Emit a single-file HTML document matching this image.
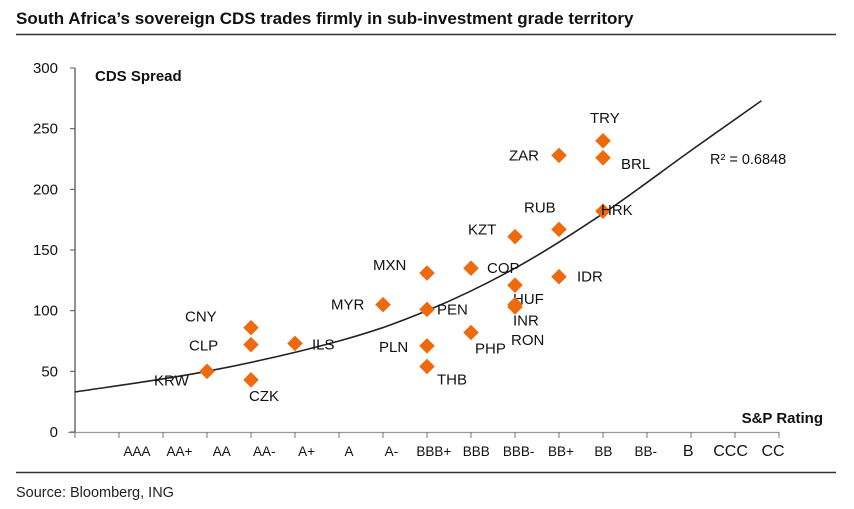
<!DOCTYPE html>
<html><head><meta charset="utf-8"><style>
body{margin:0;background:#fff;width:854px;height:509px;overflow:hidden;font-family:"Liberation Sans",sans-serif;}
svg{display:block}
</style></head><body>
<svg id="chart" width="854" height="509">
<text x="16" y="24" font-size="17" font-weight="bold" fill="#111">South Africa’s sovereign CDS trades firmly in sub-investment grade territory</text>
<line x1="16" y1="34.5" x2="836" y2="34.5" stroke="#333" stroke-width="1.5"/>
<line x1="16" y1="472.5" x2="836" y2="472.5" stroke="#333" stroke-width="1.5"/>
<text x="16" y="497" font-size="14.5" fill="#222">Source: Bloomberg, ING</text>
<text x="95" y="81" font-size="15" font-weight="bold" fill="#111">CDS Spread</text>
<text x="823" y="423" font-size="15" font-weight="bold" fill="#111" text-anchor="end">S&amp;P Rating</text>
<text x="710" y="164" font-size="14.5" fill="#111">R² = 0.6848</text>
<g id="axes"></g><g id="trend"></g><g id="points"></g>
</svg>
<script>
const categories=["AAA","AA+","AA","AA-","A+","A","A-","BBB+","BBB","BBB-","BB+","BB","BB-","B","CCC","CC"];
const yTicks=[0,50,100,150,200,250,300];
const countries=["KRW","CNY","CLP","CZK","ILS","MYR","MXN","PEN","PLN","THB","COP","PHP","KZT","HUF","INR","RON","ZAR","RUB","IDR","TRY","BRL","HRK"];
const ratings=["AA","AA-","AA-","AA-","A+","A-","BBB+","BBB+","BBB+","BBB+","BBB","BBB","BBB-","BBB-","BBB-","BBB-","BB+","BB+","BB+","BB","BB","BB"];
const spreads=[50,86,72,43,73,105,131,101,71,54,135,82,161,121,105,103,228,167,128,240,226,182];
const trendIdx=[-1,2,5,7,9,11,13,14.6];
const trendVal=[33,50,75,100,135,180,232,273];
const labelOff={KRW:[-53,14],CNY:[-66,-6],CLP:[-62,6],CZK:[-2,21],ILS:[17,6],MYR:[-52,5],MXN:[-54,-3],PEN:[10,5],PLN:[-48,6],THB:[10,18],COP:[16,5],PHP:[4,21],KZT:[-47,-2],HUF:[-2,19],INR:[-2,21],RON:[-4,38],ZAR:[-50,5],RUB:[-35,-17],IDR:[18,5],TRY:[-13,-18],BRL:[18,11],HRK:[-2,4]};
const NS="http://www.w3.org/2000/svg";
const x=i=>75+44*(i+1);
const y=v=>432-v*(364/300);
function mk(tag,attrs,parent,txt){const e=document.createElementNS(NS,tag);for(const k in attrs)e.setAttribute(k,attrs[k]);if(txt!==undefined)e.textContent=txt;parent.appendChild(e);return e;}
const ax=document.getElementById('axes');
let e=mk('line',{x1:75,y1:y(300),x2:75,y2:433,stroke:'#555','stroke-width':1.3},ax);


e=mk('line',{x1:68,y1:432.5,x2:779,y2:432.5,stroke:'#999','stroke-width':1.3},ax);


yTicks.forEach(v=>{
 mk('line',{x1:70,y1:y(v),x2:75,y2:y(v),stroke:'#555'},ax);
 e=mk('text',{x:58,y:y(v)+5,'font-size':15,'text-anchor':'end',fill:'#111'},ax,String(v));
 
 
});
mk('line',{x1:75,y1:432,x2:75,y2:438,stroke:'#777'},ax);
categories.forEach((c,i)=>{
 mk('line',{x1:75+44*(i+1),y1:432,x2:75+44*(i+1),y2:438,stroke:'#777'},ax);
 e=mk('text',{x:137+42.4*i,y:456,'font-size':(i>=13)?16:13.5,'text-anchor':'middle',fill:'#111'},ax,c);
 
 
});
const pts=trendIdx.map((t,i)=>[x(t),y(trendVal[i])]);
let d='M'+pts[0][0]+','+pts[0][1];
for(let i=0;i<pts.length-1;i++){const p0=pts[Math.max(0,i-1)],p1=pts[i],p2=pts[i+1],p3=pts[Math.min(pts.length-1,i+2)];
 d+=' C'+(p1[0]+(p2[0]-p0[0])/6)+','+(p1[1]+(p2[1]-p0[1])/6)+' '+(p2[0]-(p3[0]-p1[0])/6)+','+(p2[1]-(p3[1]-p1[1])/6)+' '+p2[0]+','+p2[1];}
e=mk('path',{d:d,fill:'none',stroke:'#222','stroke-width':1.6},document.getElementById('trend'));


const pg=document.getElementById('points');
countries.forEach((c,i)=>{
 const px=x(categories.indexOf(ratings[i])),py=y(spreads[i]);
 const m=mk('rect',{x:px-5.5,y:py-5.5,width:11,height:11,fill:'#ee6a0f',transform:`rotate(45 ${px} ${py})`},pg);
 
 
 const o=labelOff[c]||[10,5];
 const t=mk('text',{x:px+o[0],y:py+o[1],'font-size':15,fill:'#111'},pg,c);
 
 
});
</script>
</body></html>
